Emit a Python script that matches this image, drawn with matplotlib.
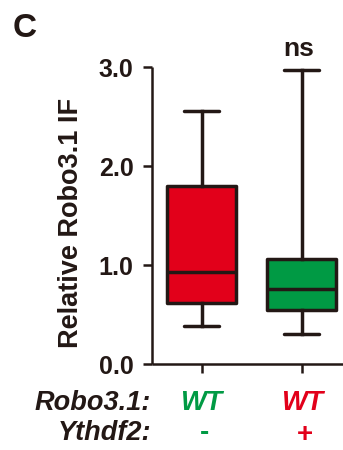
import matplotlib
matplotlib.use("Agg")
import matplotlib.pyplot as plt

# Data
groups = ["WT / -", "WT / +"]
whislo = [0.39, 0.31]
q1 = [0.62, 0.548]
med = [0.93, 0.757]
q3 = [1.80, 1.06]
whishi = [2.56, 2.97]
box_colors = ["#E2001A", "#009A44"]
yticks = [0.0, 1.0, 2.0, 3.0]
robo_labels = ["WT", "WT"]
ythdf_labels = ["-", "+"]
label_colors = ["#009A44", "#E2001A"]
signif = "ns"

plt.rcParams['font.family'] = ['Liberation Sans', 'DejaVu Sans']
ink = "#231815"
W, H = 343, 450

def fx(px):
    return px / W

def fy(py):
    return 1 - py / H

fig = plt.figure(figsize=(W / 100, H / 100), dpi=100)
ax = fig.add_axes([fx(152), fy(364.3), 1 - fx(152), (364.3 - 67) / H])

stats = []
for i in range(len(groups)):
    stats.append(dict(label=groups[i], whislo=whislo[i], q1=q1[i], med=med[i],
                      q3=q3[i], whishi=whishi[i], fliers=[]))
positions = [1, 2]
lw = 2.5
bp = ax.bxp(stats, positions=positions, widths=0.69, patch_artist=True,
            showfliers=False,
            boxprops=dict(linewidth=lw, edgecolor=ink),
            medianprops=dict(linewidth=lw, color=ink, solid_capstyle='butt'),
            whiskerprops=dict(linewidth=lw, color=ink),
            capprops=dict(linewidth=lw, color=ink, solid_capstyle='round'),
            capwidths=0.35)
for patch, c in zip(bp['boxes'], box_colors):
    patch.set_facecolor(c)
    patch.set_joinstyle('round')
    patch.set_clip_on(False)
for k in ['whiskers', 'caps', 'medians']:
    for l in bp[k]:
        l.set_clip_on(False)

ax.set_xlim(0.505, 2.41)
ax.set_ylim(0, 3.0)
ax.set_yticks(yticks)
ax.set_yticklabels([f"{v:.1f}" for v in yticks], fontsize=18, fontweight='bold', color=ink)
ax.set_xticks(positions)
ax.set_xticklabels([])
for s in ['top', 'right']:
    ax.spines[s].set_visible(False)
for s in ['left', 'bottom']:
    ax.spines[s].set_linewidth(1.8)
    ax.spines[s].set_color(ink)
    ax.spines[s].set_capstyle('butt')
ax.tick_params(axis='both', width=1.8, length=6.8, color=ink)
ax.tick_params(axis='y', pad=6.5)

# y label
fig.text(fx(78), fy(222.5), "Relative Robo3.1 IF", fontsize=19.5, fontweight='bold', color=ink,
         rotation=90, rotation_mode='anchor', ha='center', va='baseline')

# significance
fig.text(fx(298.5), fy(56), signif, ha='center', va='baseline', fontsize=19, fontweight='bold', color=ink)

# panel letter
fig.text(fx(13), fy(37), "C", fontsize=24, fontweight='bold', color=ink, ha='left', va='baseline')

# row labels below
fig.text(fx(151), fy(410), "Robo3.1:", fontsize=19.5, fontweight='bold', style='italic',
         color=ink, ha='right', va='baseline')
fig.text(fx(151), fy(440), "Ythdf2:", fontsize=19.5, fontweight='bold', style='italic',
         color=ink, ha='right', va='baseline')
trans = ax.get_xaxis_transform()
span = 364.3 - 67
sign_base = [440, 442]
for i, p in enumerate(positions):
    ax.text(p, -(410 - 364.3) / span, robo_labels[i], transform=trans, ha='center', va='baseline',
            fontsize=19.5, fontweight='bold', style='italic', color=label_colors[i])
    ax.text(p + 0.03, -(sign_base[i] - 364.3) / span, ythdf_labels[i], transform=trans,
            ha='center', va='baseline', fontsize=20, fontweight='bold', color=label_colors[i])

fig.savefig("out.png", dpi=100)
